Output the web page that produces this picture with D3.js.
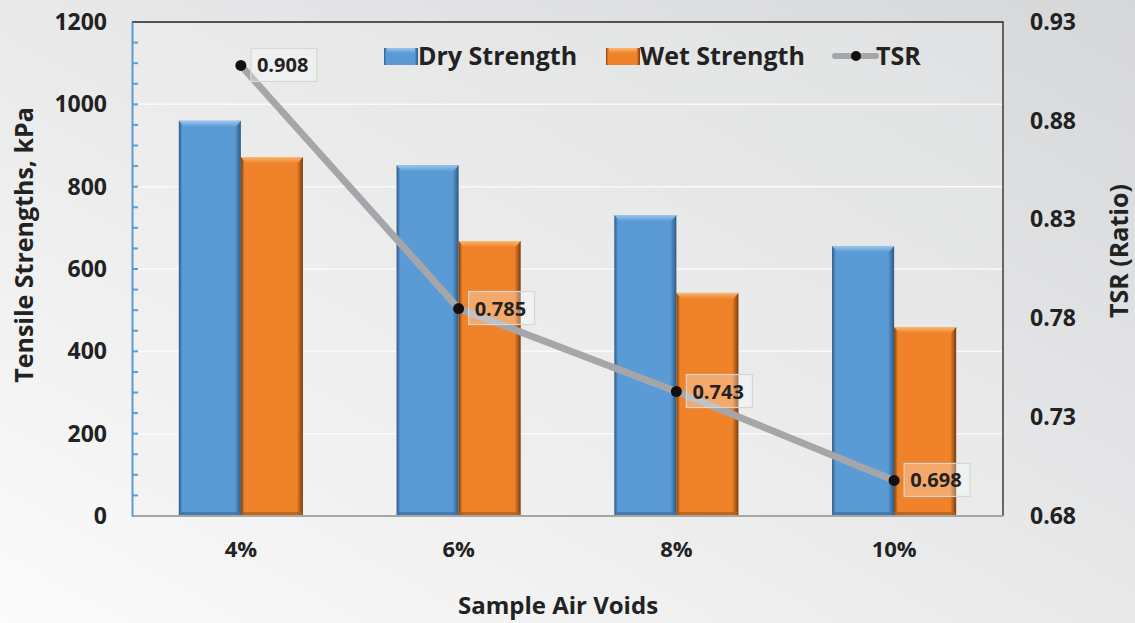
<!DOCTYPE html>
<html><head><meta charset="utf-8">
<script src="https://cdn.jsdelivr.net/npm/d3@7/dist/d3.min.js"></script>
<style>body{margin:0;}svg{display:block;}svg text{font-family:"Open Sans",sans-serif;font-weight:700;fill:#222;}</style>
</head><body><svg id="c" width="1135" height="623"></svg>
<script>
const categories = ["4%", "6%", "8%", "10%"];
const dryStrength = [960, 852, 731, 656];
const wetStrength = [872, 668, 542, 459];
const tsr = [0.908, 0.785, 0.743, 0.698];
const leftTicks = [0, 200, 400, 600, 800, 1000, 1200];
const rightTicks = [0.68, 0.73, 0.78, 0.83, 0.88, 0.93];

const W = 1135, H = 623;
const m = {l: 132, r: 1003, t: 22, b: 516};
const svg = d3.select("#c");
const defs = svg.append("defs");

const bg = defs.append("linearGradient").attr("id","bg").attr("x1","100%").attr("y1","0%").attr("x2","0%").attr("y2","100%");
bg.append("stop").attr("offset","0%").attr("stop-color","#d6d7d9");
bg.append("stop").attr("offset","100%").attr("stop-color","#fbfbfb");
svg.append("rect").attr("width",W).attr("height",H).attr("fill","url(#bg)");

const pg = defs.append("linearGradient").attr("id","pg").attr("x1","100%").attr("y1","0%").attr("x2","0%").attr("y2","100%");
pg.append("stop").attr("offset","0%").attr("stop-color","#e0e1e2");
pg.append("stop").attr("offset","100%").attr("stop-color","#f4f4f4");
svg.append("rect").attr("x",m.l).attr("y",m.t).attr("width",m.r-m.l).attr("height",m.b-m.t).attr("fill","url(#pg)");

function barGrad(id, edge, main, light){
  const g = defs.append("linearGradient").attr("id",id).attr("x1","0%").attr("x2","100%");
  g.append("stop").attr("offset","0%").attr("stop-color",edge);
  g.append("stop").attr("offset","6%").attr("stop-color",main);
  g.append("stop").attr("offset","90%").attr("stop-color",main);
  g.append("stop").attr("offset","100%").attr("stop-color",edge);
  const t = defs.append("linearGradient").attr("id",id+"t").attr("x1","0%").attr("x2","0%").attr("y1","0%").attr("y2","100%");
  t.append("stop").attr("offset","0%").attr("stop-color",light);
  t.append("stop").attr("offset","100%").attr("stop-color",main);
}
barGrad("gd","#2b5a86","#5b9bd5","#9cc7ee");
barGrad("gw","#7a3c0c","#f0832a","#f9b873");

const x0 = d3.scaleBand().domain(categories).range([m.l, m.r]).paddingInner(0.43).paddingOuter(0.215);
const x1 = d3.scaleBand().domain(["dry","wet"]).range([0, x0.bandwidth()]);
const yL = d3.scaleLinear().domain([0,1200]).range([m.b, m.t]);
const yR = d3.scaleLinear().domain([0.68,0.93]).range([m.b, m.t]);

// gridlines
svg.append("g").selectAll("line").data(leftTicks.slice(1,-1)).join("line")
  .attr("x1",m.l).attr("x2",m.r).attr("y1",d=>yL(d)).attr("y2",d=>yL(d))
  .attr("stroke","#fafafa").attr("stroke-width",1.5);

// bars
const groups = svg.append("g").selectAll("g").data(categories).join("g")
  .attr("transform",d=>`translate(${x0(d)},0)`);
const series = [["dry",dryStrength,"gd"],["wet",wetStrength,"gw"]];
series.forEach(([k,vals,gid])=>{
  groups.append("rect").attr("x",x1(k)).attr("y",(d,i)=>yL(vals[i]))
    .attr("width",x1.bandwidth()).attr("height",(d,i)=>m.b-yL(vals[i]))
    .attr("fill",`url(#${gid})`);
  groups.append("path").attr("d",(d,i)=>{
      const x=x1(k), y=yL(vals[i]), w=x1.bandwidth();
      return `M${x},${y}L${x+w},${y}L${x+w-5},${y+6}L${x+5},${y+6}Z`;})
    .attr("fill",`url(#${gid}t)`);
  groups.append("rect").attr("x",x1(k)+1).attr("y",m.b-4).attr("width",x1.bandwidth()-2).attr("height",4)
    .attr("fill", k==="dry"?"#3d74a6":"#b55f18").attr("opacity",0.8);
});

// frame
svg.append("path").attr("d",`M${m.l},${m.t}H${m.r}V${m.b}`).attr("fill","none").attr("stroke","#222").attr("stroke-width",1.3);
svg.append("line").attr("x1",m.l).attr("x2",m.r).attr("y1",m.b).attr("y2",m.b).attr("stroke","#a6a6a6").attr("stroke-width",2);

// left axis
const gL = svg.append("g").attr("transform",`translate(${m.l},0)`)
  .call(d3.axisLeft(yL).tickValues(leftTicks).tickSize(0).tickPadding(25).tickFormat(d3.format("d")));
gL.select(".domain").attr("stroke","#5b9bd5").attr("stroke-width",2);
gL.selectAll("text").style("font-size","23px");
svg.append("g").selectAll("line").data(d3.range(50,1200,50)).join("line")
  .attr("x1",m.l).attr("x2",m.l+6).attr("y1",d=>yL(d)).attr("y2",d=>yL(d))
  .attr("stroke","#5b9bd5").attr("stroke-width",2);

// right axis
const gR = svg.append("g").attr("transform",`translate(${m.r},0)`)
  .call(d3.axisRight(yR).tickValues(rightTicks).tickSize(0).tickPadding(27).tickFormat(d3.format(".2f")));
gR.select(".domain").remove();
gR.selectAll("text").style("font-size","23px");

// bottom axis
const gB = svg.append("g").attr("transform",`translate(0,${m.b})`)
  .call(d3.axisBottom(x0).tickSize(0).tickPadding(25));
gB.select(".domain").remove();
gB.selectAll("text").style("font-size","22px");

// axis titles
svg.append("text").attr("transform",`translate(33,245) rotate(-90)`).attr("text-anchor","middle")
  .style("font-size","25px").text("Tensile Strengths, kPa");
svg.append("text").attr("transform",`translate(1128,251) rotate(-90)`).attr("text-anchor","middle")
  .style("font-size","25px").text("TSR (Ratio)");
svg.append("text").attr("x",558).attr("y",614).attr("text-anchor","middle")
  .style("font-size","24px").text("Sample Air Voids");

// TSR line
const cx = d => x0(d) + x0.bandwidth()/2;
const line = d3.line().x((d,i)=>cx(categories[i])).y(d=>yR(d));
svg.append("path").datum(tsr).attr("d",line).attr("fill","none").attr("stroke","#a5a6a9").attr("stroke-width",7);
svg.append("g").selectAll("circle").data(tsr).join("circle")
  .attr("cx",(d,i)=>cx(categories[i])).attr("cy",d=>yR(d)).attr("r",5.5).attr("fill","#111");
const lab = svg.append("g").selectAll("g").data(tsr).join("g")
  .attr("transform",(d,i)=>`translate(${cx(categories[i])+10},${yR(d)})`);
lab.append("rect").attr("x",0).attr("y",-17).attr("width",66).attr("height",33)
  .attr("fill","#ffffff").attr("fill-opacity",0.3).attr("stroke","#d6d6d6").attr("stroke-width",1.2);
lab.append("text").attr("x",6).attr("y",7).style("font-size","20px").text(d=>d3.format(".3f")(d));

// legend
const lg = svg.append("g");
const legendItems = [["Dry Strength","gd",384],["Wet Strength","gw",606]];
legendItems.forEach(([t,g,x])=>{
  lg.append("rect").attr("x",x).attr("y",48).attr("width",34).attr("height",17).attr("fill",`url(#${g})`);
  lg.append("rect").attr("x",x+3).attr("y",48).attr("width",28).attr("height",5).attr("fill",`url(#${g}t)`);
  lg.append("text").attr("x",x+34).attr("y",65).style("font-size","25px").text(t);
});
lg.append("line").attr("x1",835).attr("x2",876).attr("y1",56).attr("y2",56).attr("stroke","#a5a6a9").attr("stroke-width",6).attr("stroke-linecap","round");
lg.append("circle").attr("cx",856).attr("cy",56).attr("r",5).attr("fill","#111");
lg.append("text").attr("x",876).attr("y",65).style("font-size","25px").text("TSR");
</script></body></html>
